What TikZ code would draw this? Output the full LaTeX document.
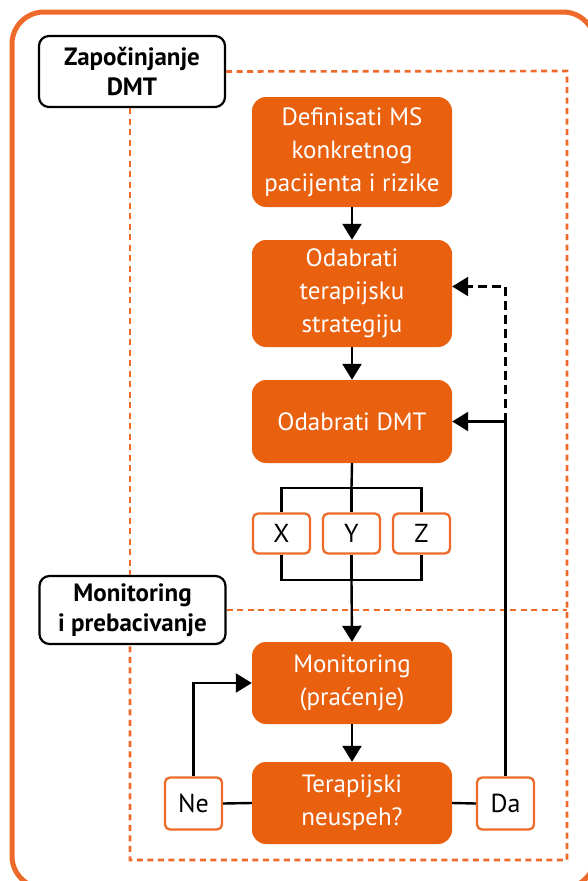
\documentclass[tikz,border=0pt]{standalone}
\usepackage{fontspec}
\setmainfont{PT Sans}
\usetikzlibrary{arrows.meta}
\definecolor{ofill}{HTML}{E9600F}
\definecolor{oline}{HTML}{EE6A2B}
\tikzset{
  obox/.style={draw=none, fill=ofill, rounded corners=14, text=white, align=center,
    minimum width=200, font=\fontsize{25}{33}\selectfont, inner sep=0},
  lbox/.style={draw=black, line width=2.2, fill=white, rounded corners=10, align=center,
    minimum width=186, font=\bfseries\fontsize{25}{30}\selectfont, inner sep=0},
  sbox/.style={draw=oline, line width=2.3, fill=white, rounded corners=5, align=center,
    minimum width=57, font=\fontsize{26}{28}\selectfont, inner sep=0},
  odash/.style={draw=oline, line width=2.6, dash pattern=on 6 off 4.5},
  conn/.style={draw=black, line width=2.4},
  arr/.style={conn, -{Triangle[length=16,width=19]}},
}
\begin{document}
\begin{tikzpicture}[x=1pt,y=-1pt]
\useasboundingbox (0,0) rectangle (587,881);
\fill[white] (0,0) rectangle (587,881);
% outer frame
\draw[oline, line width=5, rounded corners=32] (12,12) rectangle (595,888);
% label boxes (positions)
\node[lbox, minimum height=71] (L1) at (132,71.5) {Započinjanje\\DMT};
\node[lbox, minimum height=68] (L2) at (132.5,610) {Monitoring\\i prebacivanje};
% dashed section frame
\coordinate (TR) at (567,71);
\coordinate (BR) at (567,860);
\coordinate (BL) at (130,860);
\draw[odash] (L1.east) -- (TR) -- (BR) -- (BL) -- (BL |- L2.south);
\draw[odash] (BL |- L1.south) -- (BL |- L2.north);
\draw[odash] (L2.east) -- (L2.east -| TR);
% orange boxes
\node[obox, minimum height=110] (b1) at (352,152) {Definisati MS\\konkretnog\\pacijenta i rizike};
\node[obox, minimum height=107] (b2) at (352,293.5) {Odabrati\\terapijsku\\strategiju};
\node[obox, minimum height=83] (b3) at (352,421.5) {Odabrati DMT};
\node[obox, minimum height=82] (b4) at (352,683) {Monitoring\\(praćenje)};
\node[obox, minimum height=82] (b5) at (352,803) {Terapijski\\neuspeh?};
% small boxes
\node[sbox, minimum height=40] (X) at (281.5,533.5) {X};
\node[sbox, minimum height=40] (Y) at (351.5,533.5) {Y};
\node[sbox, minimum height=40] (Z) at (421.5,533.5) {Z};
\node[sbox, minimum height=52] (ne) at (193.5,803.5) {Ne};
\node[sbox, minimum height=52] (da) at (505.5,803.5) {Da};
% connectors
\draw[arr] (b1.south) -- (b2.north);
\draw[arr] (b2.south) -- (b3.north);
\coordinate (sT) at (351.5,488);
\coordinate (sB) at (351.5,580);
\draw[conn] (b3.south) -- (sT);
\draw[conn] (X.north) |- (sT) -| (Z.north);
\draw[conn] (sT) -- (Y.north);
\draw[conn] (X.south) |- (sB) -| (Z.south);
\draw[conn] (Y.south) -- (sB);
\draw[arr] (sB) -- (b4.north);
\draw[arr] (b4.south) -- (b5.north);
\draw[conn] (ne.east) -- (b5.west);
\draw[conn] (b5.east) -- (da.west);
\draw[arr] (ne.north) |- (b4.west);
\draw[arr] (da.north) |- (b3.east);
\coordinate (dj) at (da.north |- b3.east);
\draw[arr, dash pattern=on 9 off 5] (dj) |- ([yshift=7]b2.east);
\end{tikzpicture}
\end{document}
